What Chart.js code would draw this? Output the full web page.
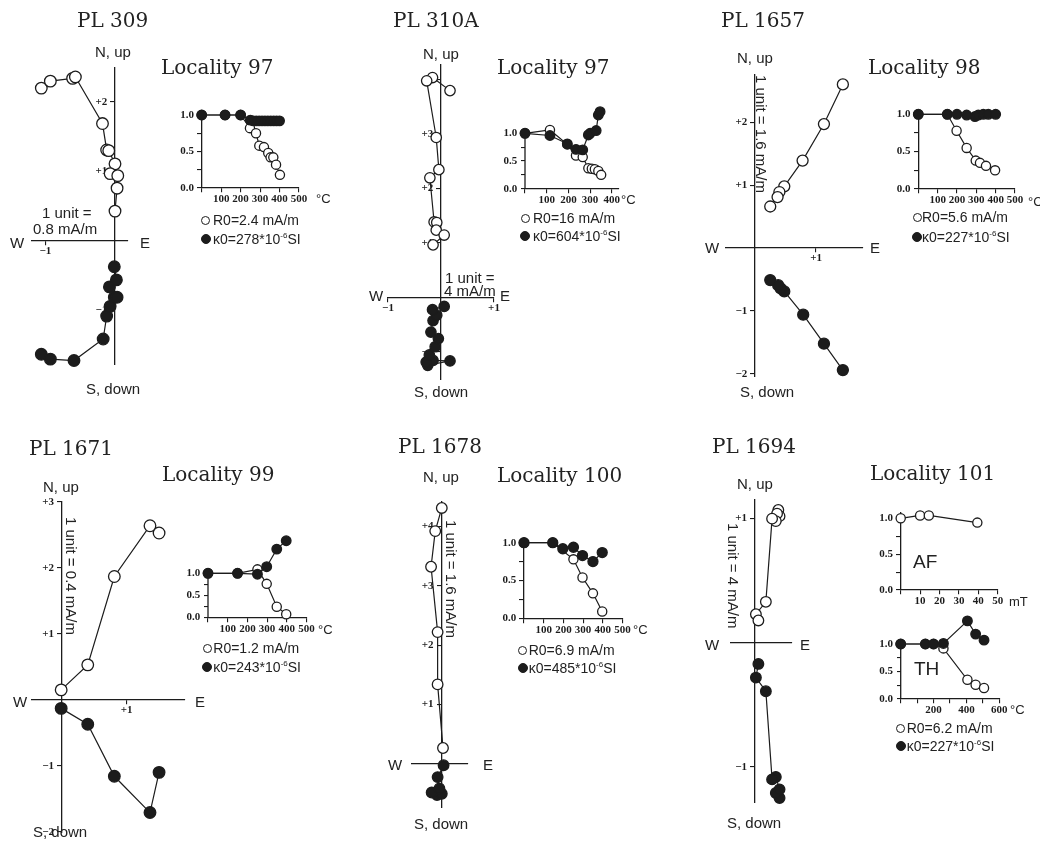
<!DOCTYPE html>
<html><head><meta charset="utf-8"><title>Demagnetization diagrams</title>
<script src="https://cdn.jsdelivr.net/npm/chart.js@4.4.1/dist/chart.umd.min.js"></script>
<style>
html,body{margin:0;padding:0;background:#fff;}
#fig{position:relative;width:1040px;height:849px;overflow:hidden;background:#fff;}
#fig canvas{position:absolute;}
.t{position:absolute;white-space:nowrap;line-height:1;color:#222;}
.serif{font-family:'DejaVu Serif',serif;}
.sans{font-family:'Liberation Sans',Arial,sans-serif;}
.rot{transform:rotate(90deg);transform-origin:0 0;}
.sup{font-size:8px;position:relative;top:-6px;}
.dot{position:absolute;box-sizing:border-box;border:1.3px solid #1c1c1c;border-radius:50%;}
</style></head>
<body><div id="fig"></div>
<script>
// ================= DATA =================
// Orthogonal (Zijderveld) projections: [E, N/up] in units; open = horizontal, filled = vertical
const pl309_open   = [[-1.06,2.20],[-0.93,2.30],[-0.61,2.34],[-0.57,2.36],[-0.18,1.69],[-0.12,1.31],[-0.09,1.30],[0.00,1.11],[-0.07,0.97],[0.04,0.94],[0.03,0.76],[0.00,0.43]];
const pl309_filled = [[-1.06,-1.63],[-0.93,-1.70],[-0.59,-1.72],[-0.17,-1.41],[-0.12,-1.08],[-0.07,-0.94],[-0.01,-0.81],[0.03,-0.81],[-0.08,-0.66],[0.02,-0.56],[-0.01,-0.37]];
const pl309_ticksE = [-1];
const pl309_ticksN = [-1,1,2];

const pl310a_open   = [[0.17,3.79],[-0.16,4.03],[-0.27,3.97],[-0.09,2.93],[-0.04,2.34],[-0.21,2.19],[-0.13,1.38],[-0.08,1.37],[-0.09,1.23],[0.06,1.14],[-0.15,0.96]];
const pl310a_filled = [[-0.25,-1.25],[0.17,-1.17],[-0.15,-1.16],[-0.28,-1.19],[-0.22,-1.06],[-0.11,-0.91],[-0.05,-0.76],[-0.19,-0.64],[-0.15,-0.43],[-0.08,-0.33],[-0.16,-0.23],[0.06,-0.17]];
const pl310a_ticksE = [-1,1];
const pl310a_ticksN = [-1,1,2,3,4];

const pl1657_open   = [[1.44,2.60],[1.13,1.97],[0.78,1.39],[0.48,0.98],[0.40,0.89],[0.37,0.81],[0.25,0.66]];
const pl1657_filled = [[1.44,-1.94],[1.13,-1.52],[0.79,-1.06],[0.48,-0.69],[0.42,-0.64],[0.38,-0.59],[0.25,-0.51]];
const pl1657_ticksE = [1];
const pl1657_ticksN = [-2,-1,1,2];

const pl1671_open   = [[1.50,2.53],[1.36,2.64],[0.81,1.87],[0.40,0.53],[-0.01,0.15]];
const pl1671_filled = [[1.50,-1.10],[1.36,-1.71],[0.81,-1.16],[0.40,-0.37],[-0.01,-0.13]];
const pl1671_ticksE = [1];
const pl1671_ticksN = [-2,-1,1,2,3];

const pl1678_open   = [[0.01,4.31],[-0.10,3.92],[-0.17,3.32],[-0.06,2.22],[-0.06,1.34],[0.03,0.27]];
const pl1678_filled = [[-0.07,-0.52],[0.01,-0.50],[-0.16,-0.48],[-0.03,-0.41],[-0.06,-0.22],[0.04,-0.02]];
const pl1678_ticksE = [];
const pl1678_ticksN = [1,2,3,4];

const pl1694_open   = [[0.19,1.07],[0.20,1.02],[0.18,1.04],[0.17,0.98],[0.14,1.00],[0.09,0.33],[0.01,0.23],[0.03,0.18]];
const pl1694_filled = [[0.20,-1.25],[0.17,-1.21],[0.20,-1.18],[0.17,-1.08],[0.14,-1.10],[0.09,-0.39],[0.01,-0.28],[0.03,-0.17]];
const pl1694_ticksE = [];
const pl1694_ticksN = [-1,1];

// Normalised demagnetization curves: R/R0 (open) and kappa/kappa0 (filled) vs temperature (°C) or field (mT)
const loc97a_tempR = [0,120,200,248,279,296,320,342,354,368,382,402];
const loc97a_R     = [1.00,1.00,1.00,0.82,0.75,0.58,0.56,0.48,0.42,0.42,0.32,0.18];
const loc97a_tempK = [0,120,200,250,265,280,295,310,325,340,355,370,385,400];
const loc97a_K     = [1.00,1.00,1.00,0.93,0.92,0.92,0.92,0.92,0.92,0.92,0.92,0.92,0.92,0.92];

const loc97b_tempR = [0,115,195,235,266,292,308,322,338,351];
const loc97b_R     = [1.00,1.06,0.80,0.60,0.57,0.37,0.36,0.35,0.32,0.25];
const loc97b_tempK = [0,115,195,235,266,292,300,328,338,346];
const loc97b_K     = [1.00,0.96,0.81,0.71,0.70,0.97,1.00,1.05,1.33,1.39];

const loc98_tempR = [0,150,198,250,297,319,350,397];
const loc98_R     = [1.00,1.00,0.78,0.55,0.38,0.35,0.31,0.25];
const loc98_tempK = [0,150,200,250,293,310,336,362,400];
const loc98_K     = [1.00,1.00,1.00,0.99,0.97,0.99,1.00,1.00,1.00];

const loc99_tempR = [0,150,251,298,349,397];
const loc99_R     = [1.00,1.00,1.09,0.76,0.24,0.07];
const loc99_tempK = [0,150,251,298,349,397];
const loc99_K     = [1.00,1.00,0.98,1.15,1.55,1.74];

const loc100_tempR = [0,146,251,297,350,397];
const loc100_R     = [1.00,1.00,0.78,0.54,0.33,0.09];
const loc100_tempK = [0,146,197,251,297,350,397];
const loc100_K     = [1.00,1.00,0.92,0.94,0.83,0.75,0.87];

const loc101_fieldAF = [0,10,14.5,39.5];
const loc101_R_AF    = [1.00,1.04,1.04,0.94];
const loc101_tempR   = [0,150,200,260,406,456,507];
const loc101_R       = [1.00,1.00,1.00,0.92,0.35,0.26,0.20];
const loc101_tempK   = [0,150,200,260,406,456,507];
const loc101_K       = [1.00,1.00,1.00,1.01,1.42,1.18,1.07];

const demagTicksY  = [0,0.25,0.5,0.75,1];
const demagLabelsY = [0,0.5,1];
const tempTicks500 = [0,100,200,300,400,500];
const tempTicks400 = [0,100,200,300,400];
const tempLabels   = [100,200,300,400,500];
const afTicks      = [0,10,20,30,40,50];
const afLabels     = [10,20,30,40,50];
const thTicks      = [0,100,200,300,400,500,600];
const thLabels     = [200,400,600];

// ================= DRAWING =================
const INK = '#1c1c1c';
const GAP = '\u2002\u2009';   // keeps vertical-axis labels clear of the axis line
const fig = document.getElementById('fig');

function frame(area, pad){
  const left=Math.floor(area.l-pad), top=Math.floor(area.t-pad);
  const right=Math.ceil(area.r+pad), bottom=Math.ceil(area.b+pad);
  const c=document.createElement('canvas');
  c.width=right-left; c.height=bottom-top;
  c.style.left=left+'px'; c.style.top=top+'px';
  fig.appendChild(c);
  return {canvas:c, padding:{left:area.l-left, top:area.t-top, right:right-area.r, bottom:bottom-area.b}};
}

function axis(min,max,pos,ticks,fmt,tickLen,pad,showBorder){
  return {type:'linear', min:min, max:max, position:pos,
    border:{display:showBorder!==false,color:INK,width:1.3},
    grid:{display:true,drawOnChartArea:false,drawTicks:true,tickLength:tickLen,color:INK,lineWidth:1.1},
    ticks:{autoSkip:false,maxRotation:0,minRotation:0,padding:pad,color:INK,
      font:{family:"'Liberation Serif'",size:11,weight:'bold'},
      callback:(v)=>fmt(v)},
    afterBuildTicks:(s)=>{s.ticks=ticks.map(v=>({value:v}));}
  };
}

function series(xs, ys, filled, r){
  return {data:xs.map((x,i)=>({x:x,y:ys[i]})), showLine:true, borderColor:INK, borderWidth:1.2,
    pointRadius:r, pointHoverRadius:r, pointBorderWidth:1.3, pointBorderColor:INK,
    pointBackgroundColor:filled?INK:'#fff', backgroundColor:filled?INK:'#fff', clip:false, fill:false};
}

// short vertical axis line (0 .. top) drawn with the chart's own scales
const shortYAxis = {
  id:'shortYAxis',
  beforeDatasetsDraw(chart, args, opts){
    if(opts.top==null) return;
    const xs=chart.scales.x, ys=chart.scales.y, ctx=chart.ctx;
    const x=xs.getPixelForValue(0);
    ctx.save(); ctx.strokeStyle=INK; ctx.lineWidth=1.3;
    ctx.beginPath(); ctx.moveTo(x, ys.getPixelForValue(0)); ctx.lineTo(x, ys.getPixelForValue(opts.top)); ctx.stroke();
    ctx.restore();
  }
};

function baseOptions(padding, scales, axisTop){
  return {responsive:false, animation:false, events:[], devicePixelRatio:1,
    layout:{padding:padding},
    plugins:{legend:{display:false},tooltip:{enabled:false},shortYAxis:{top:axisTop}},
    scales:scales};
}

const zfmt  = v => v>0 ? '+'+v : '\u2212'+Math.abs(v);
const zfmtY = v => zfmt(v)+GAP;

function zij(area, xr, yr, xt, yt, open, filled, r){
  const f=frame(area,40);
  new Chart(f.canvas,{type:'scatter',
    data:{datasets:[
      series(filled.map(p=>p[0]),filled.map(p=>p[1]),true,r),
      series(open.map(p=>p[0]),open.map(p=>p[1]),false,r)]},
    options:baseOptions(f.padding,{
      x:axis(xr[0],xr[1],{y:0},xt,zfmt,4,0),
      y:axis(yr[0],yr[1],{x:0},yt,zfmtY,4,4)}, null)});
}

// g = {l, r, y0, y1}: pixel x of 0 and of xmax, pixel y of 0 and of 1
function demag(g, xmax, ymax, axisTop, xt, xl, sets){
  const area={l:g.l, r:g.r, b:g.y0, t:g.y1-(ymax-1)*(g.y0-g.y1)};
  const f=frame(area,45);
  const xf = v => xl.includes(v) ? String(v) : '';
  const yf = v => demagLabelsY.includes(v) ? v.toFixed(1)+GAP : '';
  const partial = ymax > axisTop;
  new Chart(f.canvas,{type:'scatter',
    data:{datasets:sets},
    plugins:[shortYAxis],
    options:baseOptions(f.padding,{
      x:axis(0,xmax,{y:0},xt,xf,4,1),
      y:axis(0,ymax,{x:0},demagTicksY,yf,4,3,!partial)}, partial?axisTop:null)});
}

// ---- text helpers ----
function txt(html, x, base, fam, size){
  const d=document.createElement('div');
  d.className='t '+fam;
  d.innerHTML=html;
  d.style.fontSize=size+'px';
  d.style.left=x+'px';
  d.style.top=(base-0.845*size)+'px';
  fig.appendChild(d);
}
function rot(html, x, y, size){
  const d=document.createElement('div');
  d.className='t sans rot';
  d.innerHTML=html;
  d.style.fontSize=size+'px';
  d.style.left=x+'px';
  d.style.top=y+'px';
  fig.appendChild(d);
}
function dot(cx, cy, r, filled){
  const d=document.createElement('div');
  d.className='dot';
  d.style.left=(cx-r)+'px'; d.style.top=(cy-r)+'px';
  d.style.width=(2*r)+'px'; d.style.height=(2*r)+'px';
  d.style.background=filled?INK:'#fff';
  fig.appendChild(d);
}
function legend(cx, tx, b1, b2, rText, kText){
  dot(cx, b1-5, 4.5, false);
  txt(rText, tx, b1, 'sans', 14);
  dot(cx, b2-5, 5, true);
  txt(kText, tx, b2, 'sans', 14);
}
function kappa(v){ return '\u03ba0='+v+'*10<span class="sup">-6</span>SI'; }

// ---------- Panel 1: PL 309 / Locality 97 ----------
zij({l:32,t:68,r:128,b:365}, [-1.194,0.187], [-1.784,2.489], pl309_ticksE, pl309_ticksN, pl309_open, pl309_filled, 5.8);
demag({l:201.7,r:299,y0:188,y1:115}, 500, 1, 1, tempTicks500, tempLabels, [
  series(loc97a_tempK, loc97a_K, true, 4.8),
  series(loc97a_tempR, loc97a_R, false, 4.6)]);
txt('PL 309', 77, 27, 'serif', 20);
txt('Locality 97', 161, 74, 'serif', 20);
txt('N, up', 95, 57, 'sans', 15);
txt('1 unit =', 42, 218, 'sans', 15);
txt('0.8 mA/m', 33, 234, 'sans', 15);
txt('W', 10, 248, 'sans', 15);
txt('E', 140, 248, 'sans', 15);
txt('S, down', 86, 394, 'sans', 15);
txt('\u00b0C', 316, 203, 'sans', 13);
legend(205.5, 213, 225, 244, 'R0=2.4 mA/m', kappa(278));

// ---------- Panel 2: PL 310A / Locality 97 ----------
zij({l:388,t:65,r:494,b:380}, [-1,1], [-1.52,4.26], pl310a_ticksE, pl310a_ticksN, pl310a_open, pl310a_filled, 5.2);
demag({l:525,r:618.3,y0:188.7,y1:133.3}, 430, 1.5, 1.05, tempTicks400, tempLabels, [
  series(loc97b_tempK, loc97b_K, true, 4.8),
  series(loc97b_tempR, loc97b_R, false, 4.6)]);
txt('PL 310A', 393, 27, 'serif', 20);
txt('Locality 97', 497, 73.5, 'serif', 20);
txt('N, up', 423, 59, 'sans', 15);
txt('1 unit =', 445, 283, 'sans', 15);
txt('4 mA/m', 444, 296, 'sans', 15);
txt('W', 369, 301, 'sans', 15);
txt('E', 500, 301, 'sans', 15);
txt('S, down', 414, 397, 'sans', 15);
txt('\u00b0C', 621, 204, 'sans', 13);
legend(525, 533, 223, 241, 'R0=16 mA/m', kappa(604));

// ---------- Panel 3: PL 1657 / Locality 98 ----------
zij({l:726,t:75,r:863,b:377}, [-0.475,1.77], [-2.05,2.75], pl1657_ticksE, pl1657_ticksN, pl1657_open, pl1657_filled, 5.5);
demag({l:918.3,r:1015,y0:189,y1:114.3}, 500, 1, 1, tempTicks500, tempLabels, [
  series(loc98_tempK, loc98_K, true, 4.8),
  series(loc98_tempR, loc98_R, false, 4.6)]);
txt('PL 1657', 721, 27, 'serif', 20);
txt('Locality 98', 868, 74, 'serif', 20);
txt('N, up', 737, 63, 'sans', 15);
rot('1 unit = 1.6 mA/m', 769, 75, 15);
txt('W', 705, 253, 'sans', 15);
txt('E', 870, 253, 'sans', 15);
txt('S, down', 740, 397, 'sans', 15);
txt('\u00b0C', 1028, 206, 'sans', 13);
legend(917.3, 922, 222, 242, 'R0=5.6 mA/m', kappa(227));

// ---------- Panel 4: PL 1671 / Locality 99 ----------
zij({l:32,t:502,r:185,b:833}, [-0.46,1.90], [-2.02,3.0], pl1671_ticksE, pl1671_ticksN, pl1671_open, pl1671_filled, 5.8);
demag({l:208,r:306.5,y0:617.3,y1:573.3}, 500, 1.9, 1, tempTicks500, tempLabels, [
  series(loc99_tempK, loc99_K, true, 4.8),
  series(loc99_tempR, loc99_R, false, 4.6)]);
txt('PL 1671', 29, 455, 'serif', 20);
txt('Locality 99', 162, 481, 'serif', 20);
txt('N, up', 43, 492, 'sans', 15);
rot('1 unit = 0.4 mA/m', 79, 517, 15);
txt('W', 13, 707, 'sans', 15);
txt('E', 195, 707, 'sans', 15);
txt('S, down', 33, 837, 'sans', 15);
txt('\u00b0C', 318, 634, 'sans', 13);
legend(207.3, 213.3, 653, 672, 'R0=1.2 mA/m', kappa(243));

// ---------- Panel 5: PL 1678 / Locality 100 ----------
zij({l:412,t:502,r:468,b:808}, [-0.49,0.45], [-0.74,4.41], pl1678_ticksE, pl1678_ticksN, pl1678_open, pl1678_filled, 5.3);
demag({l:524,r:622.5,y0:618.3,y1:542.7}, 500, 1, 1, tempTicks500, tempLabels, [
  series(loc100_tempK, loc100_K, true, 5),
  series(loc100_tempR, loc100_R, false, 4.6)]);
txt('PL 1678', 398, 453, 'serif', 20);
txt('Locality 100', 497, 481.5, 'serif', 20);
txt('N, up', 423, 482, 'sans', 15);
rot('1 unit = 1.6 mA/m', 459, 520, 15);
txt('W', 388, 770, 'sans', 15);
txt('E', 483, 770, 'sans', 15);
txt('S, down', 414, 829, 'sans', 15);
txt('\u00b0C', 633, 634, 'sans', 13);
legend(522.7, 528.7, 655, 673, 'R0=6.9 mA/m', kappa(485));

// ---------- Panel 6: PL 1694 / Locality 101 ----------
zij({l:731,t:500,r:792,b:803}, [-0.19,0.30], [-1.29,1.15], pl1694_ticksE, pl1694_ticksN, pl1694_open, pl1694_filled, 5.3);
demag({l:900.7,r:997.7,y0:590,y1:518.3}, 50, 1.08, 1.08, afTicks, afLabels, [
  series(loc101_fieldAF, loc101_R_AF, false, 4.6)]);
demag({l:900.7,r:999.3,y0:699,y1:644}, 600, 1.55, 1.0, thTicks, thLabels, [
  series(loc101_tempK, loc101_K, true, 4.8),
  series(loc101_tempR, loc101_R, false, 4.6)]);
txt('PL 1694', 712, 453, 'serif', 20);
txt('Locality 101', 870, 480, 'serif', 20);
txt('N, up', 737, 489, 'sans', 15);
rot('1 unit = 4 mA/m', 741, 523, 15);
txt('W', 705, 650, 'sans', 15);
txt('E', 800, 650, 'sans', 15);
txt('S, down', 727, 828, 'sans', 15);
txt('AF', 913, 568, 'sans', 19);
txt('TH', 914, 675, 'sans', 19);
txt('mT', 1009, 606, 'sans', 13);
txt('\u00b0C', 1010, 714, 'sans', 13);
legend(900.7, 906.7, 733, 751, 'R0=6.2 mA/m', kappa(227));
</script></body></html>
